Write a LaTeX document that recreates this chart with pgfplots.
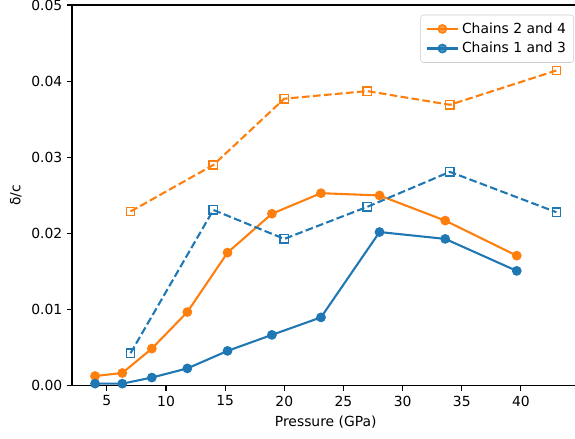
\documentclass[border=0pt]{standalone}
\usepackage{fontspec}
\setmainfont{DejaVu Sans}
\usepackage{pgfplots}
\pgfplotsset{compat=1.18}
\usetikzlibrary{calc}
\definecolor{tabblue}{HTML}{1F77B4}
\definecolor{taborange}{HTML}{FF7F0E}

\begin{document}
\fontsize{10}{12}\selectfont
\begin{tikzpicture}
\begin{axis}[
    scale only axis,
    width=365.4pt, height=274.3pt,
    xmin=2.05, xmax=44.95,
    ymin=0, ymax=0.05,
    xtick={5,10,...,40},
    ytick={0,0.01,...,0.05},
    scaled y ticks=false,
    yticklabel style={/pgf/number format/.cd, fixed, fixed zerofill, precision=2},
    /pgf/number format/assume math mode=true,
    tick align=outside,
    xtick pos=left, ytick pos=left,
    major tick length=3.5pt,
    every tick/.style={black, line width=0.8pt},
    axis line style={line width=0.8pt},
    xlabel={Pressure (GPa)},
    ylabel={δ/c},
    legend style={at={(1,1)}, anchor=north east, xshift=-4pt, yshift=-7pt,
        draw=black!20, rounded corners=2pt, fill=white, fill opacity=0.8, text opacity=1,
        row sep=1pt, inner sep=3.5pt},
    legend cell align=left,
    legend image code/.code={
        \draw[mark repeat=2, mark phase=2] plot coordinates {(0cm,0cm) (0.4cm,0cm) (0.8cm,0cm)};},
]
\coordinate (O) at (rel axis cs:0,0);

\addplot[taborange, line width=1.5pt, mark=*, mark size=3pt,
    mark options={solid, fill=taborange, line width=1pt}] coordinates {
    (4.0,0.0013) (6.3,0.0017) (8.8,0.0049) (11.8,0.0097) (15.2,0.0175)
    (18.95,0.0226) (23.1,0.0253) (28.05,0.0250) (33.6,0.0217) (39.65,0.0171)
};
\addlegendentry{Chains 2 and 4}

\addplot[tabblue, line width=1.5pt, mark=*, mark size=3pt,
    mark options={solid, fill=tabblue, line width=1pt}] coordinates {
    (4.0,0.0003) (6.3,0.0003) (8.8,0.0011) (11.8,0.0023) (15.2,0.0046)
    (18.95,0.0067) (23.1,0.0090) (28.05,0.0202) (33.6,0.0193) (39.65,0.0151)
};
\addlegendentry{Chains 1 and 3}

\addplot[taborange, line width=1.5pt, dash pattern=on 5.55pt off 2.4pt, mark=square, mark size=3pt,
    mark options={solid, line width=1pt}, forget plot] coordinates {
    (7,0.0229) (14,0.0290) (20,0.0377) (27,0.0387) (34,0.0369) (43,0.0414)
};

\addplot[tabblue, line width=1.5pt, dash pattern=on 5.55pt off 2.4pt, mark=square, mark size=3pt,
    mark options={solid, line width=1pt}, forget plot] coordinates {
    (7,0.0043) (14,0.0231) (20,0.0193) (27,0.0235) (34,0.0281) (43,0.0228)
};
\end{axis}
\pgfresetboundingbox
\path[use as bounding box] ($(O)+(-51.84pt,-38.16pt)$) rectangle ($(O)+(362.2pt,277.9pt)$);
\end{tikzpicture}
\end{document}
